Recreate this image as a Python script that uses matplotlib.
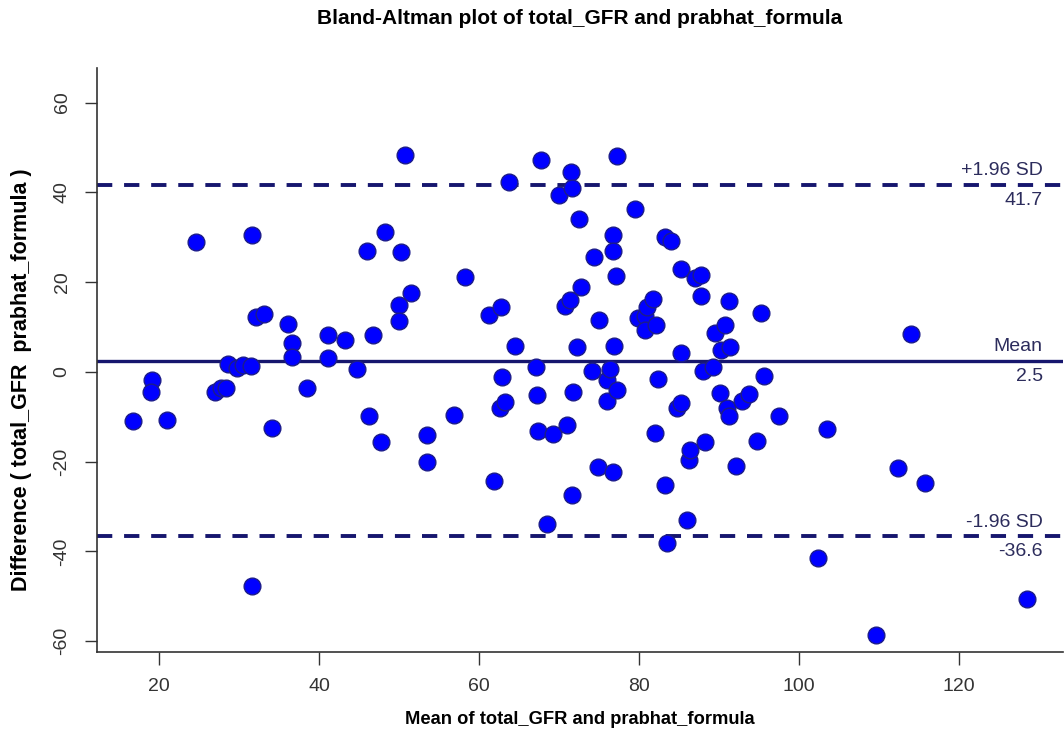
import matplotlib.pyplot as plt
from matplotlib import transforms

# mean of the two methods (x) and their difference (y)
mean_vals = [16.7, 19.1, 19.0, 21.0, 24.6, 27.0, 27.8, 28.4, 28.6, 29.7,
             30.5, 31.5, 31.6, 31.6, 32.1, 33.1, 34.1, 36.1, 36.6, 36.6,
             38.5, 41.1, 41.1, 43.2, 44.7, 46.0, 46.3, 46.8, 47.75, 48.2,
             50.0, 50.0, 50.2, 50.75, 51.5, 53.5, 53.5, 56.9, 58.2, 61.2,
             61.9, 62.6, 62.7, 62.9, 63.25, 63.8, 64.5, 67.1, 67.2, 67.4,
             67.8, 68.5, 69.3, 70.0, 70.75, 71.0, 71.4, 71.5, 71.6, 71.6,
             71.8, 72.2, 72.5, 72.8, 74.1, 74.4, 74.9, 75.0, 76.0, 76.0,
             76.4, 76.7, 76.8, 76.8, 76.9, 77.1, 77.2, 77.2, 79.5, 79.9,
             80.75, 80.75, 81.0, 81.8, 82.0, 82.1, 82.4, 83.25, 83.3, 83.5,
             84.0, 84.7, 85.3, 85.3, 85.3, 86.0, 86.3, 86.4, 87.0, 87.8,
             87.8, 88.0, 88.3, 89.3, 89.5, 90.2, 90.75, 91.4, 90.1, 91.0,
             91.2, 91.2, 92.1, 92.9, 93.7, 94.8, 95.3, 95.6, 97.5, 102.4,
             103.5, 109.6, 112.4, 114.0, 115.75, 128.5]
diff_vals = [-11.0, -1.9, -4.5, -10.8, 28.9, -4.5, -3.6, -3.6, 1.8, 0.8,
             1.6, 1.3, 30.6, -47.7, 12.2, 12.9, -12.5, 10.7, 6.5, 3.4,
             -3.6, 8.3, 3.0, 7.1, 0.7, 26.9, -9.9, 8.3, -15.7, 31.2,
             14.8, 11.4, 26.7, 48.3, 17.5, -14.0, -20.0, -9.6, 21.2, 12.7,
             -24.3, -8.1, 14.5, -1.2, -6.8, 42.4, 5.8, 1.0, -5.1, -13.1,
             47.1, -33.9, -13.8, 39.4, 14.7, -11.8, 16.0, 44.6, 40.9, -27.4,
             -4.4, 5.6, 34.1, 19.0, 0.1, 25.5, -21.2, 11.6, -1.9, -6.5,
             0.6, -22.4, 30.5, 27.0, 5.8, 21.4, 48.1, -4.0, 36.4, 12.0,
             12.5, 9.4, 14.5, 16.2, -13.7, 10.5, -1.6, 30.1, -25.3, -38.2,
             29.2, -8.1, -7.0, 22.9, 4.3, -33.1, -19.6, -17.4, 20.9, 21.6,
             16.8, 0.1, -15.6, 1.0, 8.6, 4.9, 10.5, 5.6, -4.8, -8.1,
             -9.8, 15.9, -20.9, -6.4, -4.9, -15.3, 13.1, -1.0, -9.9, -41.4,
             -12.7, -58.6, -21.3, 8.5, -24.8, -50.6]

mean_diff = 2.5
upper_loa = 41.7
lower_loa = -36.6

plt.rcParams['font.family'] = ['Liberation Sans', 'DejaVu Sans']
plt.rcParams['lines.scale_dashes'] = False
plt.rcParams['axes.unicode_minus'] = False

line_col = '#16166e'
text_col = '#2c2c5c'

fig = plt.figure(figsize=(10.64, 7.45), dpi=100)
ax = fig.add_axes([97 / 1064, 93 / 745, 966 / 1064, 584 / 745])

ax.axhline(mean_diff, color=line_col, lw=2.4, zorder=2)
for y in (upper_loa, lower_loa):
    ax.axhline(y, color=line_col, lw=2.8, dashes=(11, 8.5), zorder=2)

ax.scatter(mean_vals, diff_vals, s=145, facecolor='#0000ff',
           edgecolor='#1c1c8a', linewidth=1.0, zorder=3)

# labels for the mean and limits of agreement, right aligned
trans = transforms.blended_transform_factory(ax.transAxes, ax.transData)
labels = [(upper_loa, '+1.96 SD', '41.7'),
          (mean_diff, 'Mean', '2.5'),
          (lower_loa, '-1.96 SD', '-36.6')]
for y, top, bottom in labels:
    ax.annotate(top, (0.979, y), xycoords=trans, xytext=(0, 4),
                textcoords='offset points', ha='right', va='bottom',
                fontsize=14, color=text_col)
    ax.annotate(bottom, (0.979, y), xycoords=trans, xytext=(0, -5),
                textcoords='offset points', ha='right', va='top',
                fontsize=14, color=text_col)

ax.set_xlim(12.25, 133.0)
ax.set_ylim(-62.4, 67.7)
ax.set_xticks([20, 40, 60, 80, 100, 120])
ax.set_yticks([-60, -40, -20, 0, 20, 40, 60])
for lab in ax.get_yticklabels():
    lab.set_rotation(90)
    lab.set_va('center')
ax.tick_params(axis='both', direction='out', length=9, width=1.0,
               color='#333333', labelcolor='#333333', labelsize=14, pad=10)

for side in ('top', 'right'):
    ax.spines[side].set_visible(False)
for side in ('left', 'bottom'):
    ax.spines[side].set_color('#333333')
    ax.spines[side].set_linewidth(1.2)

ax.set_xlabel('Mean of total_GFR and prabhat_formula', fontsize=13.2,
              fontweight='bold', va='center')
ax.xaxis.set_label_coords(0.5, (652 - 720) / 584)
ax.set_ylabel('Difference ( total_GFR  prabhat_formula )', fontsize=15.5,
              fontweight='bold', va='center')
ax.yaxis.set_label_coords((22 - 97) / 966, (652 - 380) / 584)
fig.suptitle('Bland-Altman plot of total_GFR and prabhat_formula',
             x=580 / 1064, y=1 - 18 / 745, va='center', fontsize=15,
             fontweight='bold')

fig.savefig('out.png', dpi=100)
